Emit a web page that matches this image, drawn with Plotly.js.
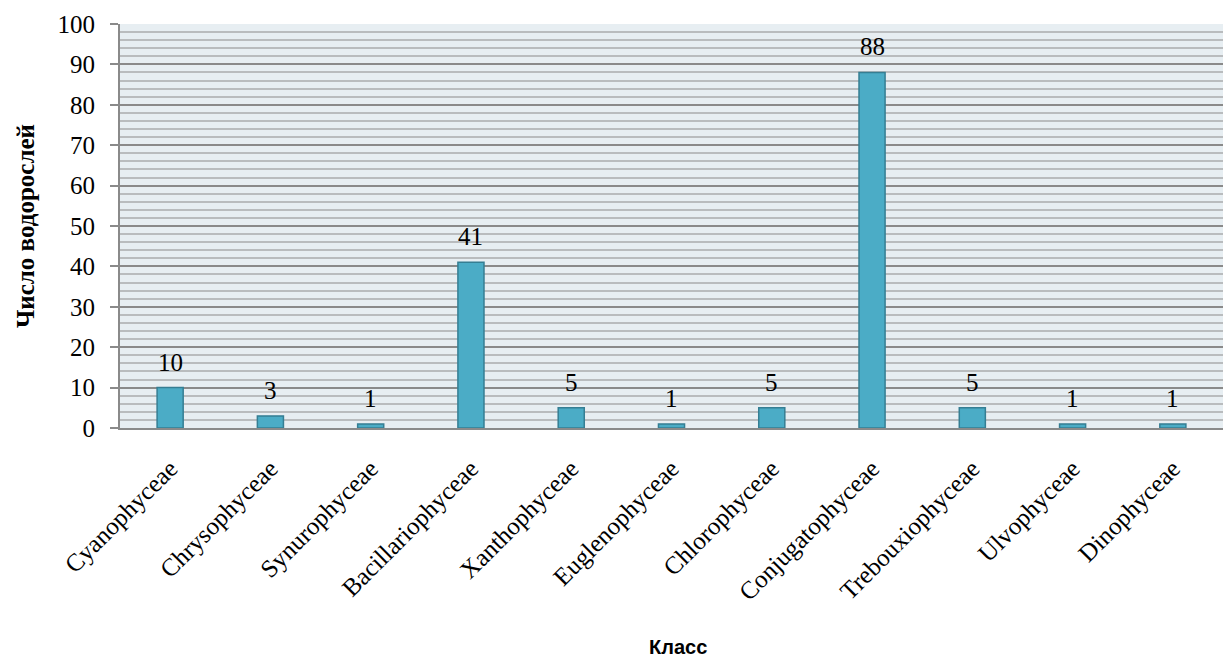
<!DOCTYPE html>
<html>
<head>
<meta charset="utf-8">
<script src="https://cdn.plot.ly/plotly-3.0.1.min.js"></script>
<style>
  html, body { margin: 0; padding: 0; background: #ffffff; }
  #chart { width: 1223px; height: 660px; }
</style>
</head>
<body>
<div id="chart"></div>
<script>
// Число видов водорослей по классам
const classes = [
  'Cyanophyceae', 'Chrysophyceae', 'Synurophyceae', 'Bacillariophyceae',
  'Xanthophyceae', 'Euglenophyceae', 'Chlorophyceae', 'Conjugatophyceae',
  'Trebouxiophyceae', 'Ulvophyceae', 'Dinophyceae'
];
const counts = [10, 3, 1, 41, 5, 1, 5, 88, 5, 1, 1];
const yTickValues = [0, 10, 20, 30, 40, 50, 60, 70, 80, 90, 100];

const yTitle = 'Число водорослей';
const xTitle = 'Класс';

const serif = '"Liberation Serif", "Times New Roman", "DejaVu Serif", serif';
const sans = '"Liberation Sans", Arial, sans-serif';
const gridMajor = '#8a8a8a';
const gridMinor = '#b9bcbe';

const trace = {
  type: 'bar',
  x: classes,
  y: counts,
  marker: {
    color: '#4bacc6',
    line: { color: '#357e93', width: 1.5 }
  },
  hoverinfo: 'x+y'
};

// value labels above each bar
const valueLabels = classes.map((c, i) => ({
  x: c,
  y: counts[i],
  xref: 'x',
  yref: 'y',
  text: String(counts[i]),
  showarrow: false,
  yanchor: 'bottom',
  yshift: 10,
  font: { family: serif, size: 25, color: '#000000' }
}));

const titles = [
  {
    text: yTitle,
    xref: 'paper', yref: 'paper',
    x: 0, y: 0.5,
    xanchor: 'center', yanchor: 'middle',
    xshift: -95,
    textangle: -90,
    showarrow: false,
    font: { family: serif, size: 25, color: '#000000', weight: 'bold' }
  },
  {
    text: xTitle,
    xref: 'paper', yref: 'paper',
    x: 0.5, y: 0,
    xanchor: 'center', yanchor: 'middle',
    xshift: 6,
    yshift: -219,
    showarrow: false,
    font: { family: sans, size: 20, color: '#000000', weight: 'bold' }
  }
];

const layout = {
  width: 1223,
  height: 660,
  margin: { l: 120, r: 0, t: 24, b: 232, pad: 0 },
  paper_bgcolor: '#ffffff',
  plot_bgcolor: '#e7eef2',
  showlegend: false,
  bargap: 0.74,
  font: { family: serif, color: '#000000' },
  xaxis: {
    type: 'category',
    tickangle: -45,
    tickfont: { family: serif, size: 25, color: '#000000' },
    ticklabelstandoff: 14,
    showgrid: false,
    showline: true,
    linecolor: gridMajor,
    linewidth: 2,
    ticks: '',
    fixedrange: true
  },
  yaxis: {
    range: [0, 100],
    tickvals: yTickValues,
    ticktext: yTickValues.map(String),
    tickfont: { family: serif, size: 25, color: '#000000' },
    ticklabelstandoff: 10,
    ticks: 'outside',
    ticklen: 8,
    tickwidth: 2,
    tickcolor: gridMajor,
    showline: true,
    linecolor: gridMajor,
    linewidth: 2,
    showgrid: true,
    gridcolor: gridMajor,
    gridwidth: 2,
    zeroline: false,
    minor: {
      dtick: 2,
      tick0: 0,
      showgrid: true,
      gridcolor: gridMinor,
      gridwidth: 2,
      ticks: ''
    },
    fixedrange: true
  },
  annotations: valueLabels.concat(titles)
};

Plotly.newPlot('chart', [trace], layout, { displayModeBar: false, staticPlot: true });
</script>
</body>
</html>
